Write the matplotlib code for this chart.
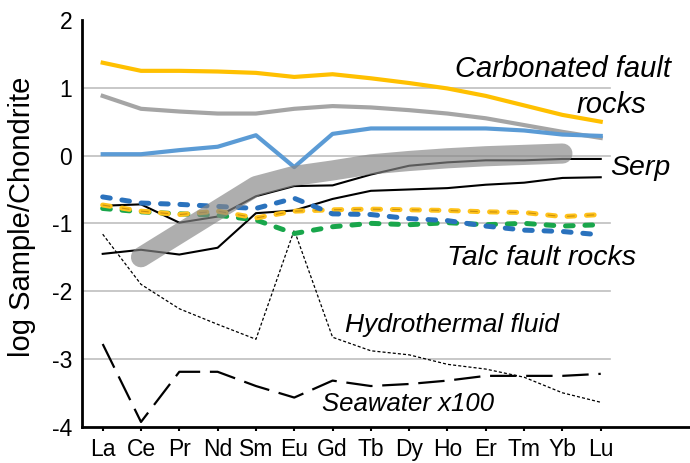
import matplotlib
matplotlib.use("Agg")
import matplotlib.pyplot as plt

plt.rcParams['font.family'] = ['Liberation Sans', 'DejaVu Sans']
plt.rcParams['lines.scale_dashes'] = False

# REE order (x axis)
ree = ['La', 'Ce', 'Pr', 'Nd', 'Sm', 'Eu', 'Gd', 'Tb', 'Dy', 'Ho', 'Er', 'Tm', 'Yb', 'Lu']
yticks = [-4, -3, -2, -1, 0, 1, 2]
ytick_labels = ['-4', '-3', '-2', '-1', '0', '1', '2']

# Carbonated fault rocks (solid)
carb_yellow = [1.37, 1.25, 1.25, 1.24, 1.22, 1.16, 1.20, 1.14, 1.07, 0.99, 0.88, 0.74, 0.60, 0.50]
carb_gray = [0.88, 0.69, 0.65, 0.62, 0.62, 0.69, 0.73, 0.71, 0.67, 0.62, 0.55, 0.45, 0.35, 0.26]
carb_blue = [0.02, 0.02, 0.08, 0.13, 0.30, -0.17, 0.32, 0.40, 0.40, 0.40, 0.40, 0.37, 0.31, 0.29]

# Talc fault rocks (dashed)
talc_blue = [-0.61, -0.70, -0.72, -0.75, -0.78, -0.63, -0.86, -0.87, -0.93, -0.96, -1.04, -1.10, -1.12, -1.17]
talc_yellow = [-0.73, -0.82, -0.87, -0.82, -0.92, -0.82, -0.80, -0.79, -0.80, -0.81, -0.83, -0.84, -0.90, -0.87]
talc_green = [-0.78, -0.83, -0.86, -0.88, -0.95, -1.15, -1.05, -1.00, -1.02, -0.99, -1.02, -1.00, -1.04, -1.02]

# Serpentinite (thin black)
serp_1 = [-0.74, -0.72, -0.99, -0.90, -0.60, -0.45, -0.44, -0.28, -0.15, -0.10, -0.07, -0.07, -0.05, -0.05]
serp_2 = [-1.45, -1.39, -1.46, -1.36, -0.85, -0.81, -0.64, -0.52, -0.50, -0.48, -0.43, -0.40, -0.33, -0.32]

# Serp trend band (Ce..Yb)
band = [-1.50, -1.15, -0.80, -0.45, -0.30, -0.22, -0.13, -0.08, -0.04, -0.01, 0.01, 0.03]

hydro = [-1.16, -1.90, -2.26, -2.49, -2.71, -1.10, -2.68, -2.88, -2.94, -3.08, -3.15, -3.27, -3.50, -3.64]
seawater = [-2.78, -3.93, -3.19, -3.19, -3.40, -3.57, -3.32, -3.40, -3.37, -3.32, -3.25, -3.25, -3.25, -3.22]

x = list(range(len(ree)))

fig = plt.figure(figsize=(6.9, 4.63), dpi=100)
ax = fig.add_axes([82 / 690, 36.3 / 463, 608 / 690, 406.7 / 463])
ax.set_xlim(-0.54, 15.33)
ax.set_ylim(-4, 2)

# gridlines stop short of the right end of the x axis
for v in [-3, -2, -1, 0, 1]:
    ax.axhline(v, xmin=0, xmax=0.868, color='#bfbfbf', lw=1.2, zorder=0)

ax.plot(x, carb_yellow, color='#ffc000', lw=3, zorder=2)
ax.plot(x, carb_gray, color='#a5a5a5', lw=3, zorder=2)
ax.plot(x, carb_blue, color='#5b9bd5', lw=3, zorder=2)

ax.plot(x, serp_1, color='black', lw=1.5, zorder=2)
ax.plot(x, serp_2, color='black', lw=1.5, zorder=2)

dash = (5.5, 8.5)
ax.plot(x, talc_green, color='#19a64b', lw=3.6, dashes=dash,
        dash_capstyle='round', zorder=3)
ax.plot(x, talc_yellow, color='#ffc21a', lw=3.6, dashes=dash,
        dash_capstyle='round', zorder=3)
ax.plot(x, talc_yellow, color='#c88f10', lw=0.8, dashes=dash, zorder=3)
ax.plot(x, talc_blue, color='#2a72bd', lw=3.6, dashes=dash,
        dash_capstyle='round', zorder=3)

ax.plot(x, hydro, color='black', lw=0.9, dashes=(2.2, 1.5), zorder=2)
ax.plot(x, seawater, color='black', lw=1.6, dashes=(19, 7), zorder=2)

ax.plot(x[1:13], band, color='#878787', alpha=0.67, lw=14.5,
        solid_capstyle='round', zorder=4)

txt = dict(style='italic', ha='left', va='baseline')
ax.text(9.2, 1.16, 'Carbonated fault', fontsize=21, **txt)
ax.text(12.38, 0.626, 'rocks', fontsize=21, **txt)
ax.text(13.25, -0.29, 'Serp', fontsize=20.5, **txt)
ax.text(8.99, -1.62, 'Talc fault rocks', fontsize=20.5, **txt)
ax.text(6.33, -2.61, 'Hydrothermal fluid', fontsize=19, **txt)
ax.text(5.73, -3.77, 'Seawater x100', fontsize=18.5, **txt)

ax.set_xticks(x)
ax.set_xticklabels(ree, fontsize=16.5)
ax.set_yticks(yticks)
ax.set_yticklabels(ytick_labels, fontsize=16.5)
ax.tick_params(axis='x', direction='out', length=3, width=1.5, pad=5)
ax.tick_params(axis='y', length=0, pad=7)
ax.set_ylabel('log Sample/Chondrite', fontsize=21)
ax.yaxis.set_label_coords(-0.076, 0.515)

for s in ['top', 'right']:
    ax.spines[s].set_visible(False)
for s in ['left', 'bottom']:
    ax.spines[s].set_linewidth(2)

fig.savefig('out.png', dpi=100)
